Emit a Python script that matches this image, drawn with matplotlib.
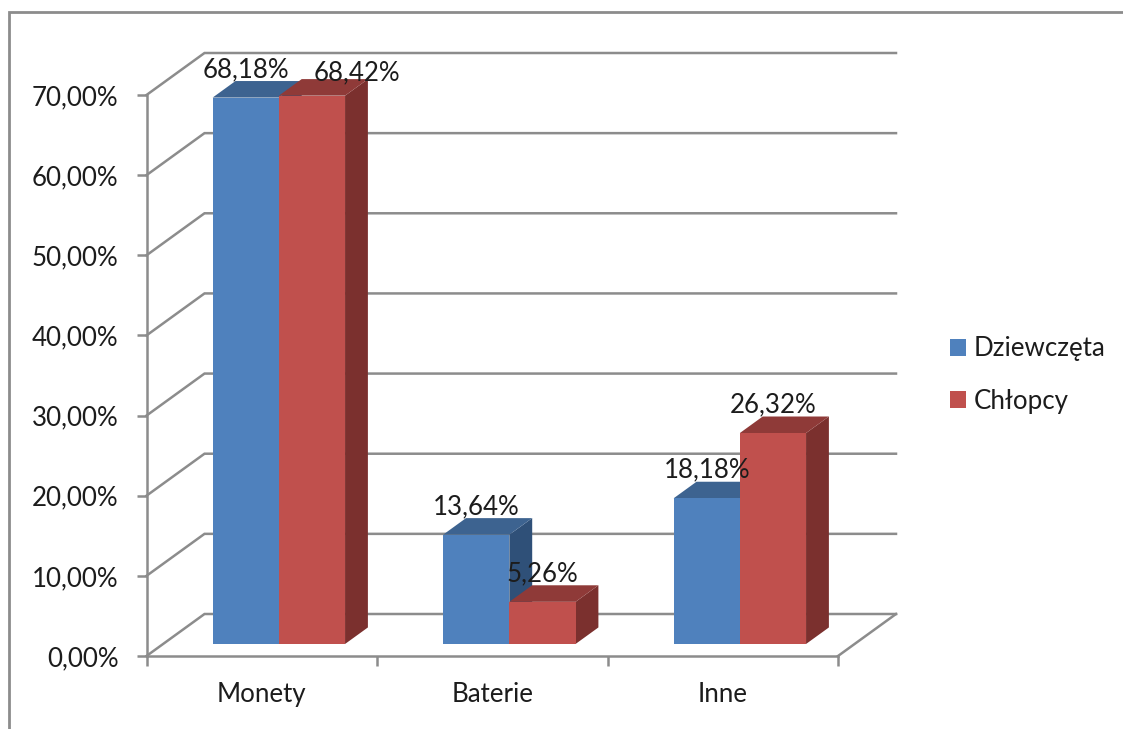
import numpy as np
import matplotlib
matplotlib.use('Agg')
import matplotlib.pyplot as plt
from matplotlib.lines import Line2D
from matplotlib.patches import Patch, Polygon

categories = ['Monety', 'Baterie', 'Inne']
dziewczeta = [68.18, 13.64, 18.18]
chlopcy = [68.42, 5.26, 26.32]
series_names = ['Dziewczęta', 'Chłopcy']
y_ticks = [0, 10, 20, 30, 40, 50, 60, 70]

W, H = 1123, 729
GRID = '#8c8c8c'
TEXT = '#1c1c1c'
BLUE = ('#4f81bd', '#3d6390', '#2f5078')
RED = ('#c0504d', '#8f3a38', '#7b302e')
FS = 18.6

plt.rcParams['font.family'] = ['Lato', 'DejaVu Sans']

fig = plt.figure(figsize=(W / 100, H / 100), dpi=100)
# axes box is the front plane of the 3D chart
left, right, top, bottom = 146.5, 838, 95, 656
ax = fig.add_axes([left / W, 1 - bottom / H, (right - left) / W, (bottom - top) / H])
ax.set_xlim(0, 3)
ax.set_ylim(0, 70)

# depth direction: a depth of 1 moves 58 px right and 42 px up
unit_x = (right - left) / 3
unit_y = (bottom - top) / 70
dx = 58 / unit_x
dy = 42 / unit_y


def proj(x, y, d):
    return (x + d * dx, y + d * dy)


def face(points, color, z):
    ax.add_patch(Polygon(points, closed=True, facecolor=color, edgecolor='none',
                         zorder=z, clip_on=False))


# walls
for v in y_ticks:
    ax.plot([0, dx, 3 + dx], [v, v + dy, v + dy], color=GRID, lw=1.8, zorder=1,
            clip_on=False, solid_joinstyle='miter')
ax.plot([3, 3 + dx], [0, dy], color=GRID, lw=1.8, zorder=1, clip_on=False)


def draw_bar(x0, width, value, colors, z):
    d0, d1 = 0.286, 0.68
    front = [proj(x0, 0, d0), proj(x0 + width, 0, d0),
             proj(x0 + width, value, d0), proj(x0, value, d0)]
    top_face = [proj(x0, value, d0), proj(x0 + width, value, d0),
                proj(x0 + width, value, d1), proj(x0, value, d1)]
    side = [proj(x0 + width, 0, d0), proj(x0 + width, 0, d1),
            proj(x0 + width, value, d1), proj(x0 + width, value, d0)]
    face(side, colors[2], z)
    face(top_face, colors[1], z)
    face(front, colors[0], z + 0.1)
    return proj(x0 + width / 2, value, d0)


bar_w = 66.2 / unit_x
start = 0.215
label_shift = {(0, 1): (45, 23)}
z = 3
for i in range(len(categories)):
    for j, (vals, cols) in enumerate([(dziewczeta, BLUE), (chlopcy, RED)]):
        anchor = draw_bar(i + start + j * bar_w, bar_w, vals[i], cols, z)
        z += 1
        ox, oy = label_shift.get((i, j), (0, 28))
        ax.annotate(f'{vals[i]:.2f}%'.replace('.', ','), anchor,
                    xytext=(ox * 0.72, oy * 0.72), textcoords='offset points',
                    ha='center', va='center', fontsize=FS, color=TEXT,
                    zorder=50, annotation_clip=False)

ax.set_xticks([0, 1, 2, 3])
ax.set_xticklabels([])
ax.set_xticks([0.5, 1.5, 2.5], labels=categories, minor=True)
ax.set_yticks(y_ticks)
ax.set_yticklabels([f'{v},00%' for v in y_ticks])
ax.tick_params(axis='x', which='major', length=7, width=1.8, color=GRID)
ax.tick_params(axis='x', which='minor', length=0, pad=19, labelsize=FS, labelcolor=TEXT)
ax.tick_params(axis='y', length=7, width=1.8, color=GRID, pad=13, labelsize=FS, labelcolor=TEXT)

for s in ['top', 'right']:
    ax.spines[s].set_visible(False)
for s in ['left', 'bottom']:
    ax.spines[s].set_color(GRID)
    ax.spines[s].set_linewidth(1.8)
    ax.spines[s].set_zorder(2)
ax.patch.set_visible(False)

handles = [Patch(facecolor=BLUE[0], label=series_names[0]),
           Patch(facecolor=RED[0], label=series_names[1])]
fig.legend(handles=handles, loc='upper left', bbox_to_anchor=(926.6 / W, 1 - 313 / H),
           frameon=False, fontsize=FS, handlelength=0.62, handleheight=0.62,
           handletextpad=0.31, labelspacing=1.06, labelcolor=TEXT)

# outer chart frame, cut off by the image on the right and bottom
fig.add_artist(Line2D([9 / W, 9 / W, 1], [0, 1 - 12 / H, 1 - 12 / H],
                      color=GRID, lw=2, solid_joinstyle='miter'))

fig.savefig('out.png', dpi=100)
